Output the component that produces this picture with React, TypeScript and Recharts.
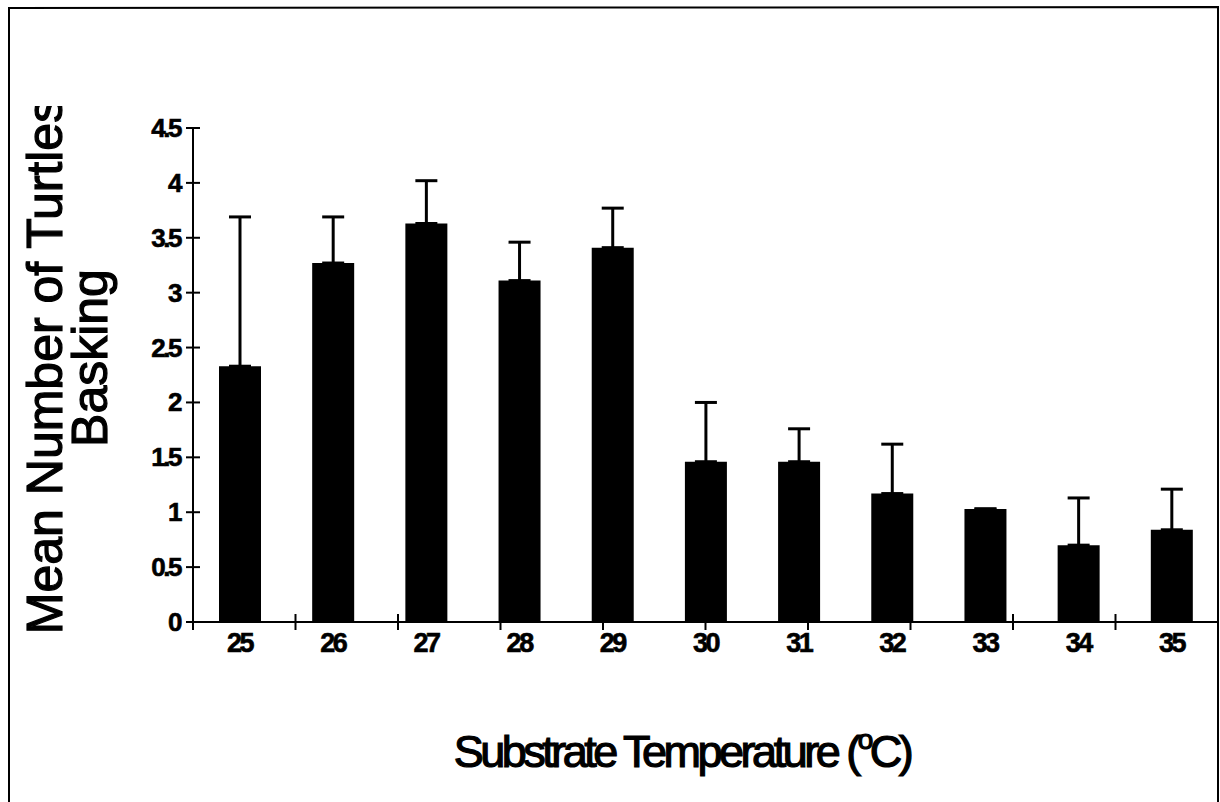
import { BarChart, Bar, XAxis, YAxis, ErrorBar } from 'recharts'

const temps = ['25', '26', '27', '28', '29', '30', '31', '32', '33', '34', '35']
const means = [2.33, 3.27, 3.63, 3.11, 3.41, 1.46, 1.46, 1.17, 1.03, 0.7, 0.84]
const upperErr = [1.36, 0.42, 0.39, 0.35, 0.36, 0.54, 0.3, 0.45, 0, 0.43, 0.37]
const yTicks = [0, 0.5, 1, 1.5, 2, 2.5, 3, 3.5, 4, 4.5]
const boundaryTicks = [0, 1, 2, 3, 4, 5, 6, 7, 8, 9, 10, 11]

const data = temps.map((t, i) => ({ temp: t, mean: means[i], err: [0, upperErr[i]] }))

const FONT = '"Liberation Sans", Arial, sans-serif'

const YTick = (props: any) => {
  const { x, y, payload } = props
  return (
    <g>
      <line x1={x - 7} x2={x + 7} y1={y} y2={y} stroke="#000" strokeWidth={2} />
      <text x={x - 13} y={y + 9} textAnchor="end" fontFamily={FONT} fontWeight="bold" fontSize={26} letterSpacing={-2.5} fill="#000" stroke="#000" strokeWidth={0.6}>
        {String(payload.value)}
      </text>
    </g>
  )
}

const BoundaryTick = (props: any) => {
  const { x, y } = props
  return <line x1={x} x2={x} y1={y - 8} y2={y + 8} stroke="#000" strokeWidth={2} />
}

const CatTick = (props: any) => {
  const { x, y, payload } = props
  return (
    <text x={x} y={y + 10} textAnchor="middle" fontFamily={FONT} fontWeight="bold" fontSize={27} letterSpacing={-2.5} fill="#000" stroke="#000" strokeWidth={0.6}>
      {payload.value}
    </text>
  )
}

export default function App() {
  return (
    <div style={{ position: 'absolute', left: 0, top: 0, width: 1220, height: 802, background: '#fff' }}>
      <BarChart
        width={1220}
        height={802}
        data={data}
        margin={{ top: 128, right: 2, bottom: 100, left: 133 }}
        barSize={42}
      >
        <XAxis
          xAxisId="bounds"
          type="number"
          domain={[0, 11]}
          ticks={boundaryTicks}
          height={20}
          axisLine={{ stroke: '#000', strokeWidth: 2 }}
          tickLine={false}
          tickSize={0}
          tickMargin={0}
          tick={<BoundaryTick />}
          interval={0}
          allowDataOverflow
        />
        <XAxis
          xAxisId="cat"
          dataKey="temp"
          height={60}
          axisLine={false}
          tickLine={false}
          tickSize={0}
          tickMargin={0}
          tick={<CatTick />}
          interval={0}
        />
        <YAxis
          width={60}
          domain={[0, 4.5]}
          ticks={yTicks}
          interval={0}
          axisLine={{ stroke: '#000', strokeWidth: 2 }}
          tickLine={false}
          tickSize={0}
          tickMargin={0}
          tick={<YTick />}
        />
        <Bar dataKey="mean" xAxisId="cat" fill="#000" isAnimationActive={false}>
          <ErrorBar dataKey="err" direction="y" width={11} stroke="#000" strokeWidth={3} />
        </Bar>
      </BarChart>
      <svg width={1220} height={802} style={{ position: 'absolute', left: 0, top: 0, pointerEvents: 'none' }}>
        <defs>
          <clipPath id="ytitle-clip">
            <rect x={0} y={106} width={200} height={696} />
          </clipPath>
        </defs>
        <polyline points="9,802 9,8 1218,7 1218,802" fill="none" stroke="#000" strokeWidth={2} />
        <g clipPath="url(#ytitle-clip)" fontFamily={FONT} fontSize={50} fill="#000" stroke="#000" strokeWidth={1.2}>
          <text x={62} y={366} textAnchor="middle" transform="rotate(-90 62 366)">
            Mean Number of Turtles
          </text>
          <text x={107} y={358} textAnchor="middle" transform="rotate(-90 107 358)">
            Basking
          </text>
        </g>
        <text x={682} y={767} textAnchor="middle" fontFamily={FONT} fontSize={45} letterSpacing={-3.5} fill="#000" stroke="#000" strokeWidth={1.2}>
          Substrate Temperature (
          <tspan fontSize={28} dy={-18}>o</tspan>
          <tspan dy={18}>C)</tspan>
        </text>
      </svg>
    </div>
  )
}
